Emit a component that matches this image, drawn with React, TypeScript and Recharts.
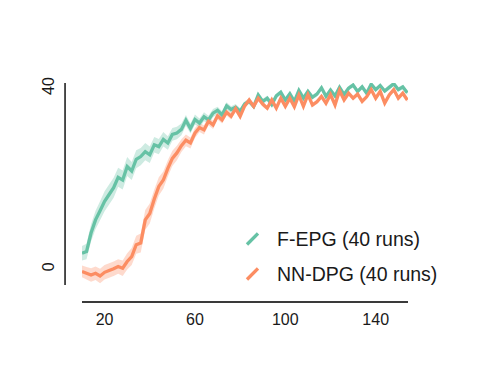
import React from "react";
import { ComposedChart, Line, Area, XAxis, YAxis, ReferenceLine } from "recharts";

// training step of every averaged point
const steps = [
  10, 12, 14, 16, 18, 20, 22, 24, 26, 28, 30, 32, 34, 36, 38, 40, 42, 44, 46, 48,
  50, 52, 54, 56, 58, 60, 62, 64, 66, 68, 70, 72, 74, 76, 78, 80, 82, 84, 86, 88,
  90, 92, 94, 96, 98, 100, 102, 104, 106, 108, 110, 112, 114, 116, 118, 120, 122, 124, 126, 128,
  130, 132, 134, 136, 138, 140, 142, 144, 146, 148, 150, 152, 154,
];

// F-EPG mean return (40 runs)
const fepgMean = [
  3.0, 3.4, 7.5, 10.4, 12.4, 14.5, 16.0, 17.5, 19.8, 19.2, 22.2, 21.2, 23.8, 24.4, 25.5, 24.8, 27.0, 26.6, 28.2, 27.4,
  29.3, 29.6, 30.4, 32.4, 30.6, 32.6, 31.8, 33.2, 32.5, 34.0, 34.6, 33.6, 35.6, 34.8, 35.3, 34.4, 36.0, 36.6, 35.5, 38.0,
  36.6, 37.3, 35.9, 37.8, 38.6, 36.9, 38.3, 36.6, 39.0, 37.3, 38.8, 37.5, 38.2, 39.6, 37.7, 39.1, 37.8, 39.7, 38.1, 39.5,
  40.2, 38.8, 39.8, 38.4, 40.4, 39.2, 40.1, 38.9, 39.7, 40.5, 39.2, 39.8, 38.5,
];
const fepgSpread = [
  1.6, 1.7, 1.9, 2.0, 2.1, 2.2, 2.2, 2.2, 2.1, 2.1, 2.1, 2.0, 2.0, 1.9, 1.9, 1.8, 1.7, 1.7, 1.6, 1.5,
  1.4, 1.4, 1.3, 1.2, 1.1, 1.1, 1.0, 1.0, 0.9, 0.9, 0.8, 0.8, 0.8, 0.7, 0.7, 0.7, 0.6, 0.6, 0.6, 0.6,
  0.6, 0.6, 0.6, 0.5, 0.5, 0.5, 0.5, 0.5, 0.5, 0.5, 0.5, 0.5, 0.5, 0.5, 0.5, 0.5, 0.5, 0.5, 0.5, 0.5,
  0.5, 0.5, 0.5, 0.5, 0.5, 0.5, 0.5, 0.5, 0.5, 0.5, 0.5, 0.5, 0.5,
];

// NN-DPG mean return (40 runs)
const nndpgMean = [
  -1.0, -1.4, -1.8, -1.4, -2.0, -1.2, -0.8, -0.4, 0.1, -0.3, 1.2, 2.3, 4.9, 5.3, 10.4, 11.8, 15.0, 17.8, 19.2, 21.8,
  24.0, 25.2, 26.8, 28.0, 27.4, 29.6, 30.8, 30.3, 32.2, 31.4, 33.4, 32.5, 34.2, 33.3, 35.0, 33.3, 35.6, 36.9, 35.5, 37.3,
  36.0, 35.1, 36.9, 35.1, 37.3, 35.5, 37.3, 35.4, 38.0, 35.5, 38.1, 35.8, 36.5, 37.7, 36.2, 38.1, 35.8, 39.0, 36.9, 38.4,
  37.3, 38.2, 36.6, 37.6, 39.2, 37.3, 38.8, 36.2, 38.0, 39.2, 37.3, 38.4, 36.9,
];
const nndpgSpread = [
  1.3, 1.4, 1.5, 1.5, 1.6, 1.6, 1.6, 1.6, 1.6, 1.7, 1.8, 1.9, 2.0, 2.1, 2.2, 2.2, 2.1, 2.0, 1.9, 1.8,
  1.7, 1.6, 1.4, 1.3, 1.2, 1.1, 1.0, 1.0, 0.9, 0.9, 0.8, 0.8, 0.7, 0.7, 0.7, 0.6, 0.6, 0.6, 0.6, 0.6,
  0.6, 0.5, 0.5, 0.5, 0.5, 0.5, 0.5, 0.5, 0.5, 0.5, 0.5, 0.5, 0.5, 0.5, 0.5, 0.5, 0.5, 0.5, 0.5, 0.5,
  0.5, 0.5, 0.5, 0.5, 0.5, 0.5, 0.5, 0.5, 0.5, 0.5, 0.5, 0.5, 0.5,
];

const xTicks = [20, 60, 100, 140];
const yTicks = [0, 40];

const series = [
  { key: "fepg", name: "F-EPG (40 runs)", color: "#66c2a5" },
  { key: "nndpg", name: "NN-DPG (40 runs)", color: "#fc8d62" },
];

const data = steps.map((s, i) => ({
  step: s,
  fepg: fepgMean[i],
  fepgBand: [fepgMean[i] - fepgSpread[i], fepgMean[i] + fepgSpread[i]],
  nndpg: nndpgMean[i],
  nndpgBand: [nndpgMean[i] - nndpgSpread[i], nndpgMean[i] + nndpgSpread[i]],
}));

const font = '"Liberation Sans", Arial, sans-serif';
const spine = "#3a3a3a";
const X_MIN = 10;
const X_MAX = 154.3;
const Y_MIN = -4;
const Y_MAX = 40.66;

const YTick = (props: any) => {
  const { y, payload } = props;
  return (
    <text
      x={49}
      y={y}
      transform={`rotate(-90, 49, ${y})`}
      textAnchor="middle"
      dominantBaseline="central"
      fontSize={16}
      fontFamily={font}
      fill="#1a1a1a"
    >
      {payload.value}
    </text>
  );
};

const App = () => {
  return (
    <div style={{ position: "absolute", left: 0, top: 0, width: 491, height: 368, background: "#fff" }}>
      <ComposedChart width={491} height={368} data={data} margin={{ top: 83, right: 83, bottom: 43, left: 52 }}>
        <XAxis
          type="number"
          dataKey="step"
          domain={[X_MIN, X_MAX]}
          ticks={xTicks}
          allowDataOverflow
          axisLine={false}
          tickLine={false}
          tickSize={0}
          tickMargin={29}
          height={40}
          tick={{ fontSize: 16, fontFamily: font, fill: "#1a1a1a" }}
        />
        <YAxis
          type="number"
          domain={[Y_MIN, Y_MAX]}
          ticks={yTicks}
          allowDataOverflow
          axisLine={false}
          tickLine={false}
          width={30}
          tick={<YTick />}
        />
        {series.map((s) => (
          <Area
            key={s.key + "Band"}
            dataKey={s.key + "Band"}
            type="linear"
            stroke="none"
            fill={s.color}
            fillOpacity={0.32}
            isAnimationActive={false}
          />
        ))}
        {series.map((s) => (
          <Line
            key={s.key}
            dataKey={s.key}
            type="linear"
            stroke={s.color}
            strokeWidth={3.3}
            dot={false}
            isAnimationActive={false}
          />
        ))}
        <ReferenceLine
          segment={[{ x: 2.5, y: Y_MIN }, { x: 2.5, y: Y_MAX }]}
          stroke={spine}
          strokeWidth={1.8}
          ifOverflow="visible"
        />
        <ReferenceLine
          segment={[{ x: X_MIN, y: -7.76 }, { x: X_MAX, y: -7.76 }]}
          stroke={spine}
          strokeWidth={1.8}
          ifOverflow="visible"
        />
      </ComposedChart>
      <div style={{ position: "absolute", left: 245, top: 221.5, fontFamily: font, fontSize: 19.5, color: "#1a1a1a" }}>
        {series.map((s) => (
          <div key={s.key} style={{ display: "flex", alignItems: "center", height: 35 }}>
            <svg width={14} height={14} style={{ marginRight: 18 }}>
              <line x1={2} y1={12.5} x2={13} y2={1.5} stroke={s.color} strokeWidth={3.3} />
            </svg>
            <span>{s.name}</span>
          </div>
        ))}
      </div>
    </div>
  );
};

export default App;
